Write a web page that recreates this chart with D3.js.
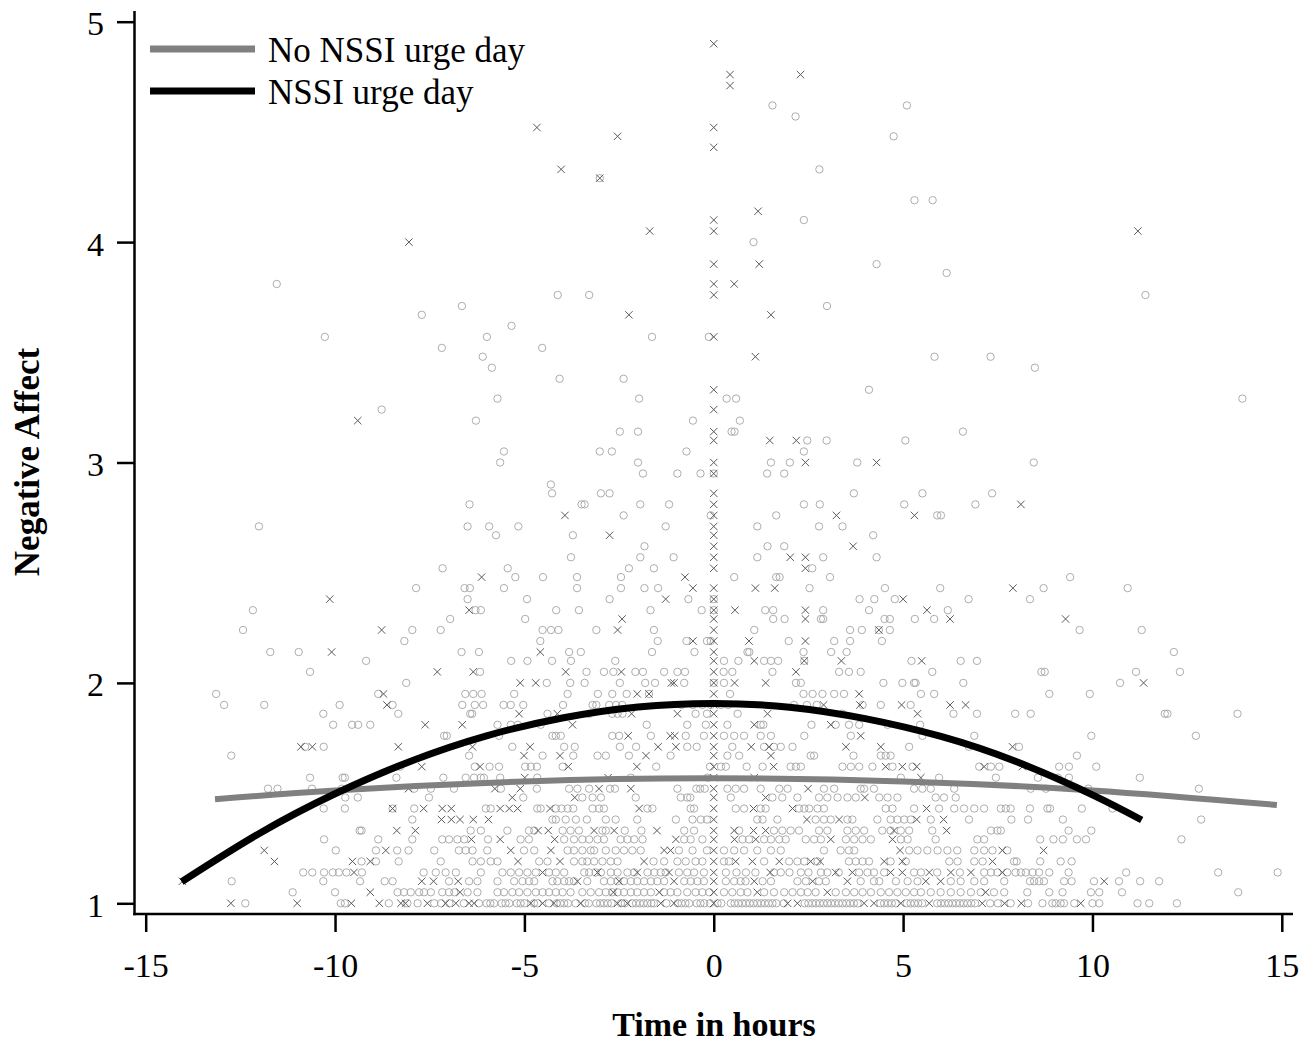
<!DOCTYPE html>
<html>
<head>
<meta charset="utf-8">
<script src="https://cdn.jsdelivr.net/npm/d3@7"></script>
<style>
  html, body { margin: 0; padding: 0; background: #fff; }
  svg { display: block; }
</style>
</head>
<body>
<svg id="chart" width="1314" height="1046"></svg>
<script>
// ---------------- data ----------------
const xTicks = [-15, -10, -5, 0, 5, 10, 15];
const yTicks = [1, 2, 3, 4, 5];
const xTitle = "Time in hours";
const yTitle = "Negative Affect";
const legendLabels = ["No NSSI urge day", "NSSI urge day"];

// fitted curves
const noUrgeCurveTime = [-13.17, -10, -5, 0, 5, 10, 14.87];
const noUrgeCurveNA   = [1.472, 1.512, 1.553, 1.567, 1.553, 1.512, 1.446];
const urgeCurveTime = [-14.05, -12, -10, -8, -6, -4, -2, 0, 2, 4, 6, 8, 10, 11.3];
const urgeCurveNA   = [1.098, 1.317, 1.497, 1.645, 1.760, 1.841, 1.891, 1.907, 1.890, 1.838, 1.757, 1.642, 1.492, 1.378];

// observations on no-urge days (circles): [negative affect, [times]]
const noUrgeDay = [
 [1.00, [-12.37,-9.85,-9.74,-8.58,-8.09,-7.82,-7.38,-7.2,-6.98,-6.6,-6.2,-6.0,-5.9,-5.8,-5.6,-5.5,-5.4,-5.2,-5.1,-5.0,-4.75,-4.65,-4.35,-4.15,-4.05,-3.95,-3.85,-3.65,-3.4,-3.3,-3.1,-3.0,-2.9,-2.8,-2.7,-2.45,-2.35,-2.15,-2.05,-1.95,-1.85,-1.75,-1.65,-1.58,-1.25,-0.95,-0.85,-0.75,-0.65,-0.45,-0.35,-0.25,-0.1,0.1,0.2,0.45,0.55,0.65,0.75,0.85,0.95,1.05,1.15,1.25,1.35,1.45,1.55,1.65,1.85,2.4,2.5,2.6,2.7,2.8,2.9,3.0,3.1,3.2,3.3,3.4,3.5,3.6,3.7,3.8,4.4,4.5,4.6,4.7,4.8,5.1,5.2,5.3,5.4,5.5,5.9,6.0,6.1,6.2,6.3,6.4,6.5,6.6,6.7,6.8,6.9,7.3,7.5,7.84,8.3,8.68,8.94,9.03,9.16,9.25,9.52,10.0,10.18,11.19,11.5,12.23]],
 [1.05, [-11.12,-10.0,-8.35,-8.18,-8.0,-7.78,-7.65,-7.47,-7.17,-6.99,-6.85,-6.5,-6.24,-5.71,-5.54,-5.32,-5.14,-4.92,-4.7,-4.52,-4.35,-4.17,-3.99,-3.78,-3.47,-3.25,-3.03,-2.85,-2.68,-2.54,-2.37,-2.19,-2.02,-1.84,-1.66,-1.31,-1.14,-0.96,-0.7,-0.48,-0.3,-0.12,0.27,0.49,0.71,0.89,1.33,1.59,1.86,2.08,2.3,2.48,2.69,3.22,3.49,3.71,3.93,4.15,4.41,4.63,4.85,5.07,5.29,5.47,5.73,5.99,6.26,6.52,6.79,7.05,7.4,7.67,8.28,8.86,9.21,9.96,10.18,10.78,13.85]],
 [1.10, [-12.73,-10.31,-9.34,-8.69,-8.48,-6.99,-6.46,-6.24,-5.71,-5.27,-5.05,-4.88,-4.74,-4.26,-4.13,-3.95,-3.82,-3.69,-3.34,-2.9,-2.72,-2.54,-2.37,-2.19,-2.02,-1.84,-1.66,-1.49,-1.31,-0.78,-0.61,-0.43,-0.26,0.32,0.54,0.71,0.84,1.29,1.51,2.21,2.43,2.78,2.96,3.88,4.23,4.37,4.81,5.12,5.38,6.26,6.52,6.88,7.14,7.67,8.35,8.46,8.59,8.72,9.25,9.45,10.04,10.7,11.26,11.76]],
 [1.14, [-10.84,-10.6,-10.29,-10.06,-9.9,-9.7,-9.29,-7.66,-7.34,-7.08,-6.81,-6.15,-5.58,-5.36,-5.14,-4.92,-4.7,-4.35,-4.17,-3.95,-3.42,-3.29,-3.12,-2.98,-2.72,-2.54,-2.28,-2.1,-1.75,-1.57,-1.4,-1.27,-0.92,-0.7,-0.52,-0.26,0.32,0.6,0.85,1.1,1.59,1.77,2.0,2.3,2.5,2.83,3.0,3.3,3.84,4.06,4.23,4.5,5.29,5.47,5.9,6.5,7.14,7.32,7.49,7.75,7.97,8.11,8.24,8.42,8.59,8.86,9.37,10.89,13.32,14.89]],
 [1.19, [-9.3,-8.92,-8.32,-7.21,-6.37,-6.15,-5.89,-5.71,-4.61,-4.39,-3.69,-3.47,-3.34,-3.16,-2.94,-2.72,-2.54,-1.59,-1.31,-0.96,-0.74,-0.48,-0.3,0.27,0.4,1.33,1.99,2.21,2.39,2.74,3.57,3.75,3.93,4.1,4.67,5.07,6.22,6.44,6.88,7.1,7.93,8.0,8.62,9.16,9.45]],
 [1.24, [-9.98,-8.92,-8.36,-8.06,-7.38,-6.73,-6.55,-6.37,-5.98,-5.01,-4.74,-3.86,-3.69,-3.47,-3.25,-3.16,-2.85,-2.59,-2.37,-2.15,-1.93,-0.92,-0.56,-0.18,0.27,0.54,0.8,1.15,1.51,1.77,2.91,3.35,3.57,3.71,5.16,5.38,5.64,5.91,6.17,6.43,6.88,7.14,7.36,7.75]],
 [1.29, [-10.29,-8.86,-7.96,-7.17,-6.99,-6.77,-6.59,-5.96,-5.1,-4.88,-3.95,-3.69,-3.47,-3.29,-3.07,-2.9,-2.46,-2.28,-2.1,-1.88,-0.78,-0.61,-0.3,0.76,0.93,1.33,1.51,1.73,1.9,2.43,2.65,2.83,3.49,3.71,3.93,4.15,4.94,5.12,5.86,6.96,7.14,8.62,8.97,9.22,9.59,9.83,12.35]],
 [1.33, [-9.35,-9.3,-6.42,-6.15,-5.45,-4.88,-4.74,-3.99,-3.78,-3.56,-2.94,-2.85,-2.35,-1.91,-0.78,-0.52,0.67,1.59,1.81,2.03,2.25,2.78,3.0,3.53,3.75,3.97,4.45,4.67,4.94,5.16,5.77,7.32,7.49,7.58,9.37,9.97]],
 [1.38, [-7.96,-4.26,-4.17,-3.91,-3.64,-3.35,-2.85,-2.59,-2.02,-1.0,-0.56,-0.34,-0.18,1.15,1.29,1.68,2.69,2.91,3.09,3.53,3.66,4.32,4.67,4.85,5.03,5.2,5.73,6.74,7.86,8.3,9.22,12.87]],
 [1.43, [-10.3,-9.74,-8.48,-7.91,-6.02,-5.89,-4.66,-4.57,-4.17,-4.02,-3.86,-3.71,-3.2,-3.03,-2.9,-1.75,-1.62,-0.61,-0.52,0.58,0.8,1.24,1.37,2.25,2.39,2.52,2.74,2.91,4.54,4.72,5.29,5.95,6.35,6.61,6.88,7.14,7.58,7.71,7.84,8.35,8.81,8.88,9.72,10.53]],
 [1.48, [-9.73,-9.4,-7.52,-5.03,-3.47,-3.2,-2.98,-2.06,-0.87,-0.7,-0.62,0.45,1.55,1.81,2.21,2.78,3.0,3.27,3.53,3.75,4.37,4.59,4.85,5.86,6.08,6.39]],
 [1.52, [-11.77,-11.52,-10.61,-9.82,-7.91,-7.47,-6.86,-5.62,-4.67,-3.82,-3.6,-3.29,-2.74,-2.61,-0.96,-0.46,-0.36,-0.24,0.36,0.58,0.8,1.24,1.73,1.95,2.91,3.18,3.88,3.97,4.23,5.29,5.51,5.73,6.35,8.37,8.77,9.89,12.81]],
 [1.57, [-10.66,-9.8,-9.74,-8.38,-7.14,-6.55,-6.33,-6.15,-6.07,-5.64,-4.66,-2.19,-0.17,4.94,5.95,7.45,8.56,9.09,9.38,11.25]],
 [1.62, [-8.28,-6.31,-5.92,-5.67,-4.98,-4.83,-4.67,-3.99,-1.52,-0.1,0.19,0.32,0.87,1.29,2.03,2.17,2.3,3.4,3.62,3.84,4.19,4.72,5.25,7.01,7.32,7.54,9.12,9.38,10.1]],
 [1.67, [-12.74,-6.46,-4.52,-3.71,-3.07,-2.85,-2.24,-1.14,0.36,0.67,2.56,2.65,3.69,4.41,4.54,4.67,9.59]],
 [1.71, [-10.79,-10.3,-5.32,-3.95,-3.67,-2.48,-2.05,-0.7,-0.45,0.49,1.33,1.59,1.77,2.08,5.16,6.74,8.06]],
 [1.76, [-7.12,-7.05,-5.67,-4.26,-4.17,-4.04,-2.68,-2.5,-1.66,-0.74,-0.26,0.27,0.54,0.8,1.24,1.51,2.39,3.62,5.51,6.88,9.97,12.73]],
 [1.81, [-10.05,-9.55,-9.39,-9.07,-5.71,-5.36,-5.17,-4.57,-1.77,-0.7,-0.21,0.36,1.24,1.31,2.58,3.22,3.57,3.84,4.59,5.45]],
 [1.86, [-10.31,-8.33,-6.43,-6.38,-4.39,-3.29,-2.68,-2.54,-2.41,-0.48,-0.18,0.63,3.4,6.33,6.95,7.96,8.37,11.91,11.98,13.83]],
 [1.90, [-12.93,-11.87,-9.88,-8.48,-6.64,-6.31,-6.09,-5.55,-5.36,-5.03,-3.98,-3.2,-3.1,-2.76,-2.58,-2.42,-0.85,-0.55,-0.3,-0.08,0.19,0.38,2.12,2.46,2.72,3.93,4.41,5.2]],
 [1.95, [-13.14,-8.86,-6.56,-6.35,-6.13,-5.27,-3.86,-3.06,-2.68,-2.3,-1.71,0.43,2.37,2.61,2.87,3.18,3.44,5.47,5.82,8.86,9.93]],
 [2.00, [-8.12,-4.41,-3.79,-3.41,-2.48,-1.81,-1.55,-0.78,0,0.27,2.17,2.3,4.48,4.98,5.29,5.33,6.59,10.73]],
 [2.05, [-10.66,-6.17,-3.36,-2.9,-2.65,-2.07,-1.87,-1.31,-0.96,-0.76,0.26,0.49,1.55,3.31,3.57,3.88,5.77,8.65,8.74,11.15,12.31]],
 [2.10, [-9.18,-5.35,-4.92,-4.27,-3.77,-2.6,0.27,0.65,1.33,1.51,1.7,2.39,5.22,6.52,6.95]],
 [2.14, [-11.71,-10.96,-6.66,-6.2,-3.82,-3.51,-1.63,-0.51,0.89,0.94,2.37,3.1,3.51,12.15]],
 [2.19, [-8.17,-4.58,-1.48,-0.72,-0.18,-0.08,1.98,3.18,3.6,4.44]],
 [2.24, [-12.43,-7.96,-7.21,-4.52,-4.3,-4.1,-3.1,-1.58,1.07,3.6,3.91,4.36,4.65,9.66,11.3]],
 [2.29, [-6.96,-4.98,1.57,1.87,2.83,2.89,4.51,4.65,5.31,5.82]],
 [2.33, [-12.17,-6.29,-6.15,-4.16,-3.56,-1.67,-0.32,0,1.36,1.57,2.89,4.1,6.18]],
 [2.38, [-6.5,-4.93,-2.75,-0.67,0,3.85,4.24,4.78,6.73,8.35]],
 [2.43, [-7.86,-6.58,-6.44,-5.54,-3.61,-2.45,-1.83,-1.47,2.53,4.52,5.98,8.71,10.93]],
 [2.48, [-5.24,-4.51,-3.61,-2.45,0.54,1.65,1.74,3.07,9.41]],
 [2.52, [-7.16,-5.44,-2.24,-1.58,2.6]],
 [2.57, [-3.77,-1.94,-1.06,1.15,2.89,4.3]],
 [2.62, [-1.83,1.42,1.86]],
 [2.67, [-5.75,-3.72,4.21]],
 [2.71, [-12.01,-6.5,-5.93,-5.16,-1.27,1.15,2.78,3.4]],
 [2.76, [-2.38,-0.08,1.65,5.9,6.0]],
 [2.81, [-6.45,-3.49,-3.41,-1.94,-1.18,2.38,2.8,5.03,6.91]],
 [2.86, [-4.27,-2.98,-2.75,3.7,5.51,7.35]],
 [2.90, [-4.3]],
 [2.95, [-1.87,-0.96,-0.35,0,1.41,1.86]],
 [3.00, [-5.64,-2.0,1.51,2.01,3.79,8.45]],
 [3.05, [-5.54,-3.01,-2.69,-0.72,2.38]],
 [3.10, [2.47,2.98,5.06]],
 [3.14, [-2.48,-2.0,0.47,0.55,6.58]],
 [3.19, [-6.28,-0.55,0.69]],
 [3.24, [-8.77]],
 [3.29, [-5.71,-1.97,0.34,0.59,13.96]],
 [3.33, [4.1]],
 [3.38, [-4.07,-2.38]],
 [3.43, [-5.86,8.48]],
 [3.48, [-6.1,5.83,7.31]],
 [3.52, [-7.18,-4.53]],
 [3.57, [-10.27,-5.99,-1.63,-0.13]],
 [3.62, [-5.34]],
 [3.67, [-7.71]],
 [3.71, [-6.65,2.99]],
 [3.76, [-4.12,-3.29,11.4]],
 [3.81, [-11.54]],
 [3.86, [6.15]],
 [3.90, [4.3]],
 [4.00, [1.05]],
 [4.10, [2.38]],
 [4.19, [5.3,5.78]],
 [4.29, [-3.01]],
 [4.33, [2.79]],
 [4.48, [4.75]],
 [4.57, [2.16]],
 [4.62, [1.55,5.1]]
];

// observations on NSSI urge days (crosses): [negative affect, [times]]
const urgeDay = [
 [1.00, [-12.75,-11.0,-9.57,-8.83,-8.26,-8.14,-7.56,-7.08,-6.81,-6.46,-6.33,-4.83,-4.52,-4.22,-3.51,-2.54,-2.28,-1.4,-1.05,0,1.95,2.21,3.97,4.23,4.94,5.69,7.09,7.68,8.12,9.69]],
 [1.05, [-9.07,-6.7,-2.65,-1.44,0,1.15,3.0,7.18]],
 [1.10, [-14.03,-7.71,-7.4,-6.75,-3.6,-2.5,-1.05,0,1.07,2.61,3.53,5.6,5.99,10.31]],
 [1.14, [-9.5,-4.52,-3.07,-2.02,-1.18,0,1.49,3.22,3.66,4.67,4.98,5.69,6.26,6.79,7.62]],
 [1.19, [-11.6,-9.54,-9.07,-5.17,-4.06,-1.84,0,0.58,1.02,1.73,2.56,2.81,4.5,4.98,7.36]],
 [1.24, [-11.87,-8.66,-5.36,-4.3,-1.31,-1.14,0,4.92,7.62,8.71]],
 [1.29, [-6.4,-5.64,-4.2,-1.0,0,0.55,1.11,3.09,4.72]],
 [1.33, [-8.37,-7.88,-4.64,-4.37,-3.16,-2.63,-1.5,0,0.54,1.05,1.37,4.76,6.15]],
 [1.38, [-7.19,-6.93,-6.7,-6.35,-5.95,0,2.46,3.31,5.36,6.07]],
 [1.43, [-8.48,-7.66,-7.17,-6.93,-5.64,-5.4,-5.18,-4.32,-1.97,0,1.05,2.08,5.62]],
 [1.48, [-5.32,-3.67,0,1.37,3.99]],
 [1.52, [-8.06,-5.78,-5.11,-3.03,-2.19,0,2.49]],
 [1.57, [-4.99,-2.79,0,1.07,5.47]],
 [1.62, [-7.71,-6.17,-3.84,-2.03,0,1.58,4.54,4.98,5.36,7.14,8.15]],
 [1.67, [-5.01,-4.06,-1.79,0,1.51]],
 [1.71, [-10.9,-10.6,-8.33,-6.37,-4.85,-1.47,-1.0,0,0.99,1.46,3.49,4.41,7.89]],
 [1.76, [-2.26,-1.15,-1.03,0,3.88]],
 [1.81, [-7.62,-6.64,-3.73,0,1.07,3.09]],
 [1.86, [-5.14,-4.13,-2.17,-0.96,0,1.42,5.38]],
 [1.90, [-8.63,0,2.9,3.86,4.96,6.24,6.65]],
 [1.95, [-8.72,-2.02,-1.71,0,3.84]],
 [2.00, [-5.11,-4.7,-1.12,-1.05,0,0.55,1.37,11.35]],
 [2.05, [-7.3,-6.35,-3.91,-2.44,0,2.17]],
 [2.10, [0,1.07,2.39,3.37,5.49]],
 [2.14, [-10.09,-4.58,0]],
 [2.19, [-0.55,0,0.93,2.42]],
 [2.24, [-8.77,-2.54,0,4.36]],
 [2.29, [-2.42,0,2.42,6.24,9.29]],
 [2.33, [-6.46,0,0.56,2.42,5.63]],
 [2.38, [-10.14,-1.27,0,5.0]],
 [2.43, [-0.55,0,1.1,1.61,7.9]],
 [2.48, [-6.13,-0.76]],
 [2.52, [0,2.42]],
 [2.57, [0,2.02,2.42]],
 [2.62, [0,3.68]],
 [2.67, [-2.75,0]],
 [2.71, [0]],
 [2.76, [-3.93,0,3.24,5.3]],
 [2.81, [0,8.11]],
 [2.86, [0]],
 [2.95, [0]],
 [3.00, [0,2.42,4.3]],
 [3.10, [0,1.48,2.18]],
 [3.14, [0]],
 [3.19, [-9.4]],
 [3.24, [0]],
 [3.33, [0]],
 [3.48, [1.1]],
 [3.57, [0]],
 [3.67, [-2.24,1.51]],
 [3.76, [0]],
 [3.81, [0,0.54]],
 [3.90, [0,1.2]],
 [4.00, [-8.05]],
 [4.05, [-1.69,0,11.2]],
 [4.10, [0]],
 [4.14, [1.17]],
 [4.29, [-3.01]],
 [4.33, [-4.03]],
 [4.43, [0]],
 [4.48, [-2.54]],
 [4.52, [-4.67,0]],
 [4.71, [0.43]],
 [4.76, [0.43,2.29]],
 [4.90, [0]]
];

// ---------------- drawing ----------------
const FONT = '"Liberation Serif", "Times New Roman", Times, serif';
const svg = d3.select("#chart");

const x = d3.scaleLinear().domain([-15, 15]).range([145.7, 1281.8]);
const y = d3.scaleLinear().domain([1, 5]).range([903.3, 21.7]);

const axisX0 = 134.5, axisY0 = 914;

const flatten = rows => rows.flatMap(([na, ts]) => ts.map(t => ({t, na})));
const circlesData = flatten(noUrgeDay);
const crossesData = flatten(urgeDay);

// points
svg.append("g").selectAll("circle").data(circlesData).join("circle")
  .attr("cx", d => x(d.t)).attr("cy", d => y(d.na)).attr("r", 3.7)
  .attr("fill", "none").attr("stroke", "#a4a4a4").attr("stroke-width", 0.9);

const cs = 3.7;
svg.append("g").selectAll("path").data(crossesData).join("path")
  .attr("transform", d => `translate(${x(d.t)},${y(d.na)})`)
  .attr("d", `M${-cs},${-cs}L${cs},${cs}M${-cs},${cs}L${cs},${-cs}`)
  .attr("fill", "none").attr("stroke", "#5a5a5a").attr("stroke-width", 1);

// curves
const line = d3.line().x(d => x(d[0])).y(d => y(d[1])).curve(d3.curveNatural);
svg.append("path").datum(d3.zip(noUrgeCurveTime, noUrgeCurveNA))
  .attr("d", line).attr("fill", "none").attr("stroke", "#808080").attr("stroke-width", 6);
svg.append("path").datum(d3.zip(urgeCurveTime, urgeCurveNA))
  .attr("d", line).attr("fill", "none").attr("stroke", "#000").attr("stroke-width", 7);

// axes
const gx = svg.append("g").attr("transform", `translate(0,${axisY0})`)
  .call(d3.axisBottom(x).tickValues(xTicks).tickSize(18).tickSizeOuter(0).tickPadding(21)
        .tickFormat(d3.format("d")));
const gy = svg.append("g").attr("transform", `translate(${axisX0},0)`)
  .call(d3.axisLeft(y).tickValues(yTicks).tickSize(17.5).tickSizeOuter(0).tickPadding(13)
        .tickFormat(d3.format("d")));
[gx, gy].forEach(g => {
  g.select(".domain").remove();
  g.selectAll(".tick line").attr("stroke", "#000").attr("stroke-width", 2.5);
  g.selectAll(".tick text").attr("fill", "#000").style("font-family", FONT).style("font-size", "34px");
});
gx.selectAll(".tick text").text(d => d < 0 ? "-" + Math.abs(d) : d);
gy.selectAll(".tick text").attr("dy", "0.38em");

svg.append("line").attr("x1", axisX0).attr("x2", axisX0).attr("y1", 11).attr("y2", axisY0 + 1.25)
  .attr("stroke", "#000").attr("stroke-width", 2.5);
svg.append("line").attr("x1", axisX0 - 1.25).attr("x2", 1293).attr("y1", axisY0).attr("y2", axisY0)
  .attr("stroke", "#000").attr("stroke-width", 2.5);

// axis titles
svg.append("text").attr("x", 714).attr("y", 1036).attr("text-anchor", "middle")
  .style("font-family", FONT).style("font-size", "34px").style("font-weight", "bold").text(xTitle);
svg.append("text").attr("transform", "translate(39,462) rotate(-90)").attr("text-anchor", "middle")
  .style("font-family", FONT).style("font-size", "35px").style("font-weight", "bold").text(yTitle);

// legend
const legend = svg.append("g");
const legendColors = ["#808080", "#000"];
const legendWidths = [7, 7];
const legendY = [49, 91];
legendLabels.forEach((lab, i) => {
  legend.append("line").attr("x1", 150).attr("x2", 255).attr("y1", legendY[i]).attr("y2", legendY[i])
    .attr("stroke", legendColors[i]).attr("stroke-width", legendWidths[i]);
  legend.append("text").attr("x", 268).attr("y", legendY[i] + 12.5)
    .style("font-family", FONT).style("font-size", "35px").attr("fill", "#000").text(lab);
});
</script>
</body>
</html>
